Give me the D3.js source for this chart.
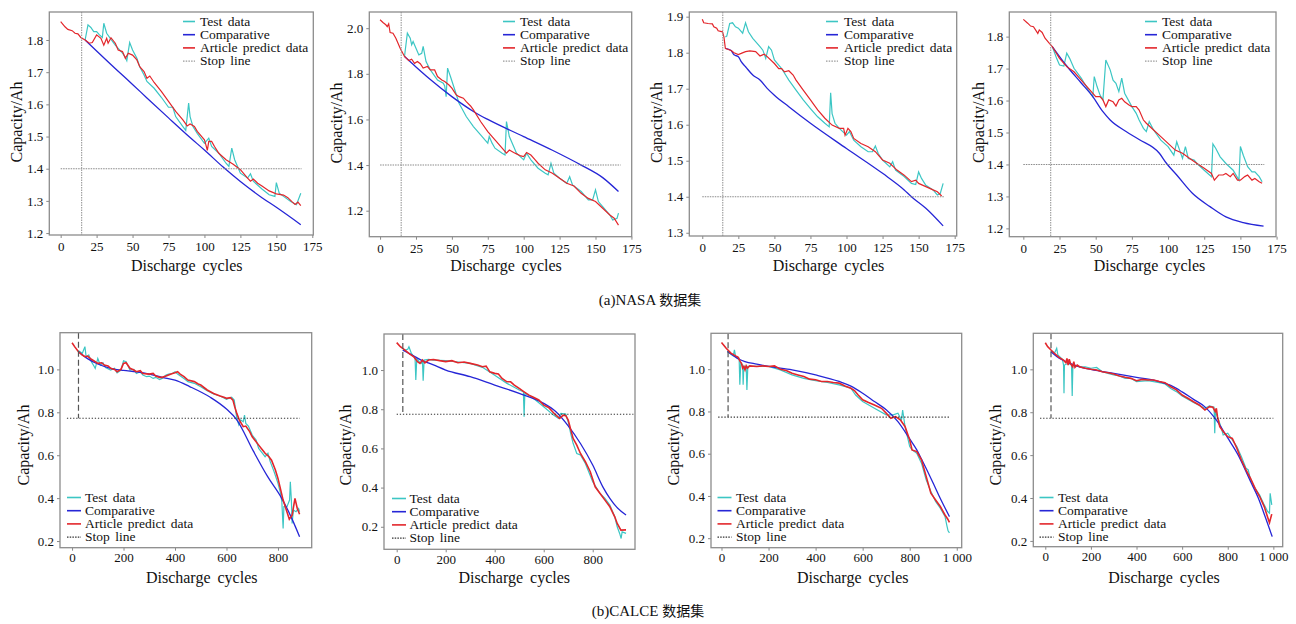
<!DOCTYPE html>
<html>
<head>
<meta charset="utf-8">
<script src="https://cdn.jsdelivr.net/npm/d3@7"></script>
<style>
body { margin: 0; background: #fff; }
text { font-family: "Liberation Serif", "Times New Roman", Times, "DejaVu Serif", serif; fill: #111; }
.cjk { font-family: "Noto Sans CJK SC", sans-serif; }
</style>
</head>
<body>
<script>
// DATA (cycle, capacity in Ah)
var legendLabels = ['Test data', 'Comparative', 'Article predict data', 'Stop line'];
var captionTags = ['(a)NASA ', '(b)CALCE '];
var captionCjk = '数据集';

var nasaCycleTicks = [0, 25, 50, 75, 100, 125, 150, 175];
var calceCycleTicks = [0, 200, 400, 600, 800];
var calceCycleTicksK = [0, 200, 400, 600, 800, 1000];
var calceCycleLabelsK = ['0', '200', '400', '600', '800', '1 000'];
var nasaA_capTicks = [1.2, 1.3, 1.4, 1.5, 1.6, 1.7, 1.8];
var nasaB_capTicks = [1.2, 1.4, 1.6, 1.8, 2.0];
var nasaC_capTicks = [1.3, 1.4, 1.5, 1.6, 1.7, 1.8, 1.9];
var calceCapTicks = [0.2, 0.4, 0.6, 0.8, 1.0];

var nasaThreshold = 1.4;
var nasaStopCycle = [14.6, 14.7, 14.2, 18.9];
var nasaStopEnd = [167.5, 167.5, 168, 166.5];
var calceThreshold = [0.772, 0.774, 0.773, 0.772];
var calceStopCycle = [25, 25, 28, 25];
var calceStopSpan = [[-20, 885], [0, 966], [-14, 971], [-23, 1000]];

var nasaA_test = [[17,1.80],[19,1.847],[21,1.839],[23,1.826],[25,1.826],[27,1.816],[29,1.808],[30,1.852],[32,1.821],[35,1.802],[38,1.784],[40,1.774],[43,1.759],[45,1.746],[46,1.736],[48,1.792],[50,1.769],[53,1.743],[55,1.717],[58,1.691],[60,1.671],[65,1.65],[70,1.622],[75,1.591],[78,1.591],[80,1.562],[85,1.531],[87,1.519],[89,1.604],[90,1.562],[92,1.531],[95,1.51],[100,1.479],[103,1.495],[105,1.469],[110,1.448],[115,1.417],[117,1.407],[119,1.464],[121,1.428],[125,1.386],[130,1.371],[132,1.384],[134,1.361],[140,1.337],[145,1.319],[149,1.314],[150,1.357],[152,1.324],[155,1.314],[160,1.298],[164,1.288],[167,1.324]];
var nasaA_comp = [[17,1.80],[25,1.766],[40,1.703],[50,1.662],[60,1.62],[75,1.558],[90,1.497],[100,1.458],[113,1.405],[125,1.36],[140,1.31],[150,1.28],[167,1.226]];
var nasaA_pred = [[0,1.857],[3,1.841],[5,1.833],[8,1.829],[10,1.821],[12,1.819],[14,1.808],[17,1.80],[20,1.79],[22,1.792],[25,1.816],[28,1.805],[30,1.784],[32,1.805],[33,1.79],[35,1.807],[38,1.79],[40,1.769],[43,1.764],[45,1.743],[47,1.759],[50,1.753],[53,1.738],[55,1.717],[58,1.702],[60,1.681],[62,1.688],[65,1.668],[70,1.64],[75,1.609],[80,1.578],[85,1.552],[88,1.533],[90,1.539],[93,1.531],[95,1.516],[100,1.49],[101,1.474],[102,1.457],[103,1.485],[105,1.485],[107,1.469],[110,1.448],[115,1.428],[120,1.414],[125,1.397],[130,1.371],[132,1.361],[134,1.368],[137,1.355],[140,1.346],[145,1.331],[150,1.322],[155,1.318],[158,1.31],[161,1.297],[163,1.289],[165,1.296],[167,1.285]];

var nasaB_test = [[17,1.876],[19,1.978],[21,1.956],[22,1.927],[23,1.942],[25,1.912],[27,1.883],[29,1.89],[30,1.92],[32,1.854],[35,1.817],[40,1.773],[44,1.759],[45,1.747],[46,1.70],[47,1.825],[49,1.788],[52,1.73],[55,1.671],[60,1.613],[65,1.569],[70,1.532],[73,1.51],[75,1.496],[76,1.525],[78,1.496],[80,1.474],[85,1.452],[87,1.444],[88,1.591],[90,1.525],[93,1.481],[95,1.452],[100,1.423],[102,1.452],[105,1.423],[110,1.386],[115,1.364],[117,1.357],[119,1.408],[121,1.364],[125,1.342],[130,1.32],[132,1.349],[134,1.313],[140,1.284],[145,1.247],[148,1.247],[150,1.291],[152,1.24],[155,1.218],[160,1.181],[162,1.159],[165,1.167],[166,1.189]];
var nasaB_comp = [[17,1.876],[25,1.83],[35,1.775],[50,1.70],[65,1.635],[75,1.60],[100,1.525],[120,1.465],[140,1.40],[155,1.345],[166,1.284]];
var nasaB_pred = [[0,2.037],[2,2.025],[4,2.015],[5,2.007],[6,2.019],[7,1.981],[9,1.978],[11,1.956],[14,1.912],[17,1.876],[20,1.858],[22,1.864],[24,1.846],[26,1.854],[28,1.844],[30,1.825],[33,1.832],[35,1.817],[38,1.817],[40,1.788],[43,1.773],[45,1.766],[48,1.751],[50,1.737],[53,1.708],[55,1.70],[58,1.693],[60,1.678],[63,1.659],[65,1.642],[70,1.591],[75,1.547],[80,1.51],[85,1.474],[88,1.452],[90,1.466],[93,1.455],[95,1.449],[98,1.44],[100,1.437],[102,1.455],[105,1.444],[108,1.423],[110,1.408],[115,1.379],[120,1.364],[125,1.342],[130,1.32],[135,1.308],[140,1.276],[145,1.254],[150,1.24],[155,1.211],[160,1.181],[163,1.167],[166,1.137]];

var nasaC_test = [[16,1.844],[17,1.846],[19,1.881],[21,1.883],[23,1.872],[25,1.868],[28,1.854],[30,1.883],[32,1.858],[35,1.84],[40,1.817],[42,1.807],[44,1.784],[46,1.817],[48,1.807],[50,1.78],[55,1.756],[60,1.724],[65,1.696],[70,1.669],[75,1.645],[80,1.622],[85,1.604],[88,1.594],[89,1.689],[90,1.631],[92,1.604],[95,1.59],[100,1.571],[102,1.581],[105,1.557],[110,1.539],[115,1.525],[118,1.525],[120,1.541],[122,1.52],[125,1.502],[130,1.483],[132,1.497],[134,1.474],[140,1.456],[145,1.437],[148,1.434],[150,1.469],[152,1.451],[155,1.432],[160,1.419],[163,1.405],[165,1.409],[167,1.437]];
var nasaC_comp = [[16,1.812],[20,1.806],[22,1.794],[25,1.789],[27,1.775],[30,1.761],[35,1.738],[40,1.724],[45,1.701],[50,1.682],[60,1.65],[75,1.604],[100,1.534],[125,1.465],[140,1.419],[145,1.40],[155,1.368],[167,1.319]];
var nasaC_pred = [[0,1.893],[1,1.883],[4,1.881],[7,1.88],[8,1.872],[10,1.868],[11,1.861],[14,1.858],[15,1.844],[16,1.812],[18,1.809],[20,1.806],[22,1.80],[25,1.795],[27,1.798],[30,1.803],[33,1.805],[37,1.803],[40,1.791],[43,1.796],[45,1.789],[50,1.77],[53,1.756],[55,1.756],[57,1.747],[60,1.75],[63,1.738],[65,1.724],[70,1.696],[75,1.669],[80,1.641],[85,1.618],[90,1.599],[95,1.59],[98,1.59],[99,1.571],[101,1.59],[103,1.581],[105,1.562],[110,1.548],[115,1.539],[120,1.525],[125,1.502],[130,1.493],[135,1.474],[140,1.46],[145,1.442],[148,1.446],[150,1.437],[155,1.428],[160,1.419],[163,1.414],[166,1.402]];

var nasaD_test = [[20,1.769],[23,1.732],[25,1.711],[28,1.708],[30,1.748],[32,1.732],[35,1.701],[40,1.67],[45,1.633],[48,1.612],[49,1.675],[51,1.643],[53,1.617],[55,1.602],[57,1.727],[60,1.696],[62,1.664],[64,1.654],[66,1.628],[68,1.67],[70,1.623],[75,1.581],[78,1.56],[80,1.539],[83,1.513],[85,1.503],[87,1.534],[90,1.508],[95,1.476],[100,1.456],[104,1.429],[106,1.471],[108,1.445],[110,1.419],[112,1.456],[114,1.419],[118,1.414],[120,1.403],[125,1.382],[130,1.362],[131,1.464],[133,1.45],[136,1.424],[140,1.403],[145,1.382],[149,1.351],[150,1.456],[152,1.429],[155,1.393],[158,1.377],[160,1.377],[163,1.362],[165,1.346]];
var nasaD_comp = [[20,1.769],[30,1.708],[40,1.655],[48,1.612],[55,1.565],[60,1.539],[71,1.503],[80,1.478],[94,1.435],[99,1.403],[106,1.367],[117,1.309],[129,1.268],[140,1.236],[152,1.218],[166,1.207]];
var nasaD_pred = [[0,1.854],[3,1.842],[5,1.833],[7,1.831],[10,1.81],[11,1.821],[13,1.813],[15,1.795],[18,1.779],[20,1.769],[25,1.732],[30,1.706],[35,1.69],[40,1.664],[45,1.638],[50,1.612],[53,1.612],[55,1.602],[57,1.581],[59,1.602],[62,1.596],[64,1.583],[66,1.602],[68,1.607],[70,1.596],[73,1.586],[75,1.581],[78,1.581],[80,1.57],[83,1.539],[85,1.529],[90,1.508],[95,1.487],[100,1.466],[105,1.445],[110,1.435],[115,1.419],[120,1.403],[125,1.388],[130,1.372],[132,1.351],[135,1.367],[138,1.367],[140,1.372],[143,1.362],[145,1.372],[148,1.351],[150,1.351],[153,1.362],[155,1.367],[158,1.351],[160,1.356],[163,1.346],[165,1.341]];

var calceA_test = [[25,1.087],[40,1.075],[50,1.106],[55,1.056],[65,1.067],[75,1.036],[85,1.016],[90,1.005],[100,1.051],[110,1.02],[120,1.031],[130,1.009],[150,0.997],[165,1.005],[175,0.984],[190,0.997],[200,1.04],[210,1.036],[225,0.997],[240,1.0],[250,0.981],[265,0.989],[275,0.974],[290,0.966],[300,0.969],[315,0.958],[325,0.963],[340,0.953],[350,0.958],[365,0.974],[375,0.978],[390,0.981],[400,0.989],[410,0.978],[425,0.966],[440,0.953],[450,0.943],[475,0.935],[500,0.919],[525,0.901],[550,0.885],[575,0.876],[600,0.86],[620,0.87],[630,0.857],[640,0.772],[648,0.741],[655,0.764],[665,0.756],[670,0.787],[675,0.748],[685,0.736],[700,0.694],[715,0.671],[725,0.632],[740,0.609],[750,0.593],[761,0.609],[770,0.57],[785,0.523],[800,0.469],[810,0.422],[815,0.383],[820,0.259],[823,0.36],[835,0.36],[845,0.391],[848,0.476],[852,0.391],[855,0.282],[860,0.345],[870,0.337],[880,0.352],[884,0.337]];
var calceA_comp = [[25,1.082],[60,1.05],[100,1.025],[150,1.005],[200,0.995],[250,0.988],[300,0.978],[350,0.963],[400,0.95],[457,0.92],[537,0.87],[600,0.815],[640,0.765],[704,0.62],[760,0.5],[814,0.4],[850,0.315],[884,0.22]];
var calceA_pred = [[0,1.124],[10,1.106],[25,1.082],[40,1.067],[50,1.059],[60,1.062],[75,1.047],[90,1.036],[100,1.028],[115,1.031],[125,1.02],[140,1.016],[150,1.005],[165,1.0],[175,0.989],[190,1.0],[200,1.028],[210,1.031],[225,1.005],[240,0.997],[250,0.989],[265,0.994],[275,0.981],[300,0.978],[315,0.981],[325,0.969],[340,0.963],[350,0.963],[365,0.969],[375,0.974],[390,0.981],[400,0.984],[410,0.989],[420,0.978],[435,0.966],[450,0.95],[475,0.943],[490,0.932],[500,0.927],[525,0.904],[550,0.888],[575,0.876],[590,0.87],[600,0.865],[615,0.868],[625,0.857],[632,0.826],[640,0.795],[650,0.764],[665,0.733],[675,0.736],[690,0.71],[700,0.686],[715,0.663],[725,0.647],[740,0.624],[750,0.609],[765,0.593],[775,0.577],[790,0.531],[800,0.492],[820,0.391],[844,0.302],[855,0.321],[866,0.399],[875,0.352],[884,0.325]];

var calceB_test = [[25,1.099],[45,1.106],[50,1.119],[60,1.085],[75,1.06],[78,0.949],[82,1.06],[95,1.037],[100,1.034],[105,1.051],[108,0.946],[112,1.051],[130,1.054],[150,1.051],[200,1.048],[250,1.041],[300,1.034],[350,1.014],[400,0.974],[450,0.932],[500,0.898],[517,0.889],[520,0.762],[523,0.881],[550,0.864],[600,0.813],[640,0.77],[660,0.753],[670,0.779],[690,0.775],[700,0.736],[710,0.677],[720,0.626],[735,0.574],[750,0.566],[770,0.523],[800,0.43],[830,0.37],[850,0.345],[870,0.311],[890,0.251],[900,0.20],[910,0.166],[916,0.14],[920,0.174],[936,0.166]];
var calceB_comp = [[25,1.102],[50,1.085],[100,1.051],[150,1.026],[200,1.0],[300,0.966],[400,0.923],[500,0.881],[600,0.83],[650,0.787],[700,0.715],[750,0.625],[800,0.515],[843,0.40],[870,0.345],[898,0.30],[936,0.26]];
var calceB_pred = [[0,1.14],[15,1.119],[30,1.106],[50,1.085],[70,1.068],[85,1.043],[95,1.034],[105,1.051],[115,1.037],[130,1.051],[150,1.054],[175,1.048],[200,1.043],[225,1.048],[250,1.037],[275,1.041],[300,1.034],[330,1.026],[350,1.017],[365,1.02],[380,0.991],[400,0.983],[415,0.98],[430,0.957],[450,0.94],[465,0.94],[480,0.923],[500,0.906],[520,0.889],[540,0.872],[560,0.86],[580,0.847],[600,0.821],[620,0.809],[640,0.782],[650,0.77],[665,0.753],[680,0.77],[690,0.767],[700,0.745],[720,0.651],[735,0.617],[750,0.574],[770,0.532],[790,0.481],[810,0.404],[830,0.37],[850,0.336],[870,0.302],[890,0.251],[900,0.217],[915,0.183],[936,0.184]];

var calceC_test = [[25,1.084],[50,1.063],[55,1.092],[60,1.06],[75,1.052],[78,0.926],[82,1.028],[90,1.021],[92,0.926],[95,1.013],[105,1.013],[108,0.902],[112,1.013],[150,1.013],[200,1.013],[250,0.997],[300,0.973],[350,0.957],[400,0.946],[450,0.937],[500,0.926],[550,0.91],[570,0.878],[600,0.847],[650,0.815],[700,0.784],[730,0.784],[750,0.792],[765,0.76],[770,0.807],[780,0.729],[800,0.634],[810,0.618],[830,0.602],[850,0.555],[870,0.476],[890,0.421],[910,0.374],[930,0.342],[950,0.303],[958,0.26],[963,0.235],[969,0.225]];
var calceC_comp = [[25,1.084],[50,1.065],[75,1.047],[100,1.036],[150,1.024],[200,1.013],[300,0.997],[400,0.973],[500,0.942],[550,0.92],[600,0.886],[650,0.847],[700,0.808],[750,0.752],[800,0.67],[830,0.618],[850,0.575],[900,0.46],[925,0.40],[969,0.302]];
var calceC_pred = [[0,1.126],[20,1.099],[40,1.076],[60,1.063],[70,1.057],[80,1.036],[85,1.028],[90,1.005],[95,1.013],[100,0.997],[105,1.016],[110,1.005],[120,1.016],[150,1.013],[175,1.016],[200,1.013],[225,1.016],[250,1.0],[275,0.994],[300,0.981],[325,0.973],[350,0.965],[375,0.953],[400,0.95],[425,0.942],[450,0.942],[475,0.937],[500,0.934],[525,0.921],[550,0.91],[565,0.899],[580,0.879],[600,0.855],[625,0.842],[650,0.831],[680,0.815],[700,0.792],[720,0.768],[740,0.776],[760,0.76],[780,0.729],[800,0.665],[810,0.618],[830,0.61],[850,0.571],[870,0.492],[890,0.413],[910,0.381],[930,0.35],[950,0.31],[962,0.29],[969,0.275]];

var calceD_test = [[25,1.087],[40,1.075],[50,1.098],[55,1.067],[75,1.047],[80,1.02],[82,0.888],[84,1.02],[100,1.028],[115,1.02],[118,0.876],[121,1.02],[150,1.012],[175,1.012],[200,1.005],[225,1.009],[250,0.989],[275,0.981],[300,0.974],[325,0.969],[350,0.958],[375,0.958],[400,0.943],[450,0.947],[500,0.938],[525,0.932],[550,0.911],[575,0.896],[600,0.876],[650,0.845],[700,0.818],[720,0.829],[740,0.823],[743,0.702],[746,0.803],[760,0.764],[770,0.733],[780,0.694],[800,0.702],[820,0.671],[840,0.64],[860,0.593],[880,0.539],[890,0.531],[900,0.484],[920,0.445],[940,0.414],[960,0.368],[975,0.337],[983,0.329],[986,0.422],[993,0.368]];
var calceD_comp = [[25,1.082],[50,1.06],[100,1.031],[150,1.012],[200,1.0],[300,0.981],[400,0.963],[500,0.943],[550,0.925],[600,0.895],[650,0.86],[700,0.825],[744,0.772],[800,0.68],[846,0.60],[900,0.477],[934,0.40],[965,0.31],[995,0.22]];
var calceD_pred = [[0,1.124],[10,1.106],[25,1.09],[40,1.075],[60,1.056],[80,1.043],[90,1.031],[95,1.051],[100,1.02],[105,1.047],[110,1.028],[120,1.012],[125,1.036],[130,1.009],[140,1.02],[150,1.012],[175,1.005],[200,1.0],[225,0.997],[250,0.989],[275,0.984],[300,0.978],[325,0.969],[350,0.963],[375,0.958],[400,0.947],[425,0.953],[450,0.95],[475,0.95],[500,0.943],[525,0.938],[550,0.919],[575,0.904],[600,0.88],[625,0.865],[650,0.849],[675,0.834],[700,0.81],[720,0.826],[735,0.823],[745,0.803],[750,0.818],[755,0.779],[765,0.733],[780,0.71],[800,0.686],[820,0.678],[840,0.632],[860,0.577],[880,0.531],[900,0.492],[920,0.445],[940,0.407],[960,0.36],[975,0.31],[983,0.285],[993,0.325]];


// LAYOUT
var nasaBottom = 271, calceBottom = 583;
var panels = [
    {row: 0, test: nasaA_test, comp: nasaA_comp, pred: nasaA_pred, box: [49.3, 12, 313.3, 235], xDom: [-7.9, 175.7], yDom: [1.194, 1.887], xTicks: nasaCycleTicks, yTicks: nasaA_capTicks, leg: [183, 200, 21.5], xLab: [186.7, nasaBottom], yLab: [16.7, 122]},
    {row: 0, test: nasaB_test, comp: nasaB_comp, pred: nasaB_pred, box: [369.3, 12, 631.7, 236.7], xDom: [-7.5, 175.2], yDom: [1.086, 2.071], xTicks: nasaCycleTicks, yTicks: nasaB_capTicks, leg: [503, 520, 21.5], xLab: [506, nasaBottom], yLab: [336.7, 123]},
    {row: 0, test: nasaC_test, comp: nasaC_comp, pred: nasaC_pred, box: [689.3, 12, 956.7, 236], xDom: [-9, 176.4], yDom: [1.291, 1.913], xTicks: nasaCycleTicks, yTicks: nasaC_capTicks, leg: [826, 844, 21.5], xLab: [828.5, nasaBottom], yLab: [656.7, 122.5]},
    {row: 0, test: nasaD_test, comp: nasaD_comp, pred: nasaD_pred, box: [1009.3, 12, 1276, 236.7], xDom: [-9.7, 174.6], yDom: [1.174, 1.877], xTicks: nasaCycleTicks, yTicks: nasaA_capTicks, leg: [1145, 1162, 21.5], xLab: [1149.5, nasaBottom], yLab: [978.3, 122.5]},
    {row: 1, test: calceA_test, comp: calceA_comp, pred: calceA_pred, box: [60, 332.7, 311.7, 547.7], xDom: [-46.8, 931], yDom: [0.169, 1.171], xTicks: calceCycleTicks, yTicks: calceCapTicks, leg: [67, 85, 497.5], xLab: [201.7, calceBottom], yLab: [23.3, 445]},
    {row: 1, test: calceB_test, comp: calceB_comp, pred: calceB_pred, box: [384, 334, 635, 549.3], xDom: [-51.8, 972.6], yDom: [0.085, 1.184], xTicks: calceCycleTicks, yTicks: calceCapTicks, leg: [392, 409.5, 498.5], xLab: [514.3, calceBottom], yLab: [345, 445]},
    {row: 1, test: calceC_test, comp: calceC_comp, pred: calceC_pred, box: [711, 333.3, 961.7, 547.7], xDom: [-44.6, 1021], yDom: [0.155, 1.170], xTicks: calceCycleTicksK, yTicks: calceCapTicks, leg: [717.5, 736, 497.5], xLab: [852.7, calceBottom], yLab: [673.3, 445]},
    {row: 1, test: calceD_test, comp: calceD_comp, pred: calceD_pred, box: [1033.3, 333.3, 1282.7, 546.7], xDom: [-52.6, 1041], yDom: [0.173, 1.168], xTicks: calceCycleTicksK, yTicks: calceCapTicks, leg: [1039.5, 1058, 497.5], xLab: [1164, calceBottom], yLab: [995, 445]}
];

var colors = {test: '#3cc6c4', comp: '#2626d6', pred: '#e3262b'};


// PREPARE SVG
var svg = d3.select('body').append('svg')
    .attr('width', 1296)
    .attr('height', 624);

var defs = svg.append('defs');


// DRAW PANELS
panels.forEach(function(p, i) {
    var top = p.row === 0;
    var g = svg.append('g');

    var x = d3.scaleLinear().domain(p.xDom).range([p.box[0], p.box[2]]);
    var y = d3.scaleLinear().domain(p.yDom).range([p.box[3], p.box[1]]);

    defs.append('clipPath').attr('id', 'clip' + i)
        .append('rect')
        .attr('x', p.box[0]).attr('y', p.box[1])
        .attr('width', p.box[2] - p.box[0]).attr('height', p.box[3] - p.box[1]);

    // axes
    var xAxis = d3.axisBottom(x)
        .tickValues(p.xTicks)
        .tickSizeInner(3).tickSizeOuter(0)
        .tickPadding(top ? 4 : 2)
        .tickFormat(function(d) {
            var k = calceCycleTicksK.indexOf(d);
            return (d >= 1000 && k >= 0) ? calceCycleLabelsK[k] : d;
        });
    var yAxis = d3.axisLeft(y)
        .tickValues(p.yTicks)
        .tickSizeInner(3).tickSizeOuter(0)
        .tickPadding(3)
        .tickFormat(d3.format('.1f'));

    [g.append('g').attr('transform', 'translate(0,' + p.box[3] + ')').call(xAxis),
     g.append('g').attr('transform', 'translate(' + p.box[0] + ',0)').call(yAxis)]
        .forEach(function(a) {
            a.select('.domain').remove();
            a.attr('font-family', null).attr('font-size', 13).attr('color', '#111');
            a.selectAll('line').attr('stroke', '#888');
        });

    var plot = g.append('g').attr('clip-path', 'url(#clip' + i + ')');

    // series
    var line = d3.line()
        .x(function(d) { return x(d[0]); })
        .y(function(d) { return y(d[1]); });
    var smooth = d3.line()
        .curve(d3.curveMonotoneX)
        .x(function(d) { return x(d[0]); })
        .y(function(d) { return y(d[1]); });

    plot.append('path').datum(p.test)
        .attr('d', line).attr('fill', 'none')
        .attr('stroke', colors.test).attr('stroke-width', 1.2);
    plot.append('path').datum(p.comp)
        .attr('d', smooth).attr('fill', 'none')
        .attr('stroke', colors.comp).attr('stroke-width', 1.3);
    plot.append('path').datum(p.pred)
        .attr('d', line).attr('fill', 'none')
        .attr('stroke', colors.pred).attr('stroke-width', top ? 1.2 : 1.6);

    // stop lines
    var j = i % 4;
    if (top) {
        plot.append('line')
            .attr('x1', x(0)).attr('x2', x(nasaStopEnd[j]))
            .attr('y1', y(nasaThreshold)).attr('y2', y(nasaThreshold))
            .attr('stroke', '#8a8a8a').attr('stroke-width', 1.1).attr('stroke-dasharray', '1.5,1');
        plot.append('line')
            .attr('x1', x(nasaStopCycle[j])).attr('x2', x(nasaStopCycle[j]))
            .attr('y1', p.box[1]).attr('y2', p.box[3])
            .attr('stroke', '#999').attr('stroke-width', 1.1).attr('stroke-dasharray', '1.5,1');
    } else {
        plot.append('line')
            .attr('x1', x(calceStopSpan[j][0])).attr('x2', x(calceStopSpan[j][1]))
            .attr('y1', y(calceThreshold[j])).attr('y2', y(calceThreshold[j]))
            .attr('stroke', '#333').attr('stroke-width', 1.1).attr('stroke-dasharray', '1.3,1.8');
        plot.append('line')
            .attr('x1', x(calceStopCycle[j])).attr('x2', x(calceStopCycle[j]))
            .attr('y1', p.box[1]).attr('y2', y(calceThreshold[j]))
            .attr('stroke', '#555').attr('stroke-width', 1.2).attr('stroke-dasharray', '6,3');
    }

    // frame
    g.append('rect')
        .attr('x', p.box[0]).attr('y', p.box[1])
        .attr('width', p.box[2] - p.box[0]).attr('height', p.box[3] - p.box[1])
        .attr('fill', 'none').attr('stroke', '#8c8c8c').attr('stroke-width', 1.3);

    // legend
    var legColors = [colors.test, colors.comp, colors.pred, top ? '#999' : '#333'];
    var rowH = 13.2, len = top ? 12 : 14;
    legendLabels.forEach(function(label, k) {
        var ly = p.leg[2] + k * rowH;
        var l = g.append('line')
            .attr('x1', p.leg[0]).attr('x2', p.leg[0] + len)
            .attr('y1', ly).attr('y2', ly)
            .attr('stroke', legColors[k]).attr('stroke-width', k === 3 ? 1.2 : 1.6);
        if (k === 3) l.attr('stroke-dasharray', '1.5,1.2');
        g.append('text')
            .attr('x', p.leg[1]).attr('y', ly + 4.3)
            .attr('font-size', 13.5)
            .style('word-spacing', '2px')
            .text(label);
    });

    // axis labels
    g.append('text')
        .attr('x', p.xLab[0]).attr('y', p.xLab[1])
        .attr('text-anchor', 'middle')
        .attr('font-size', 16)
        .style('word-spacing', '3px')
        .text('Discharge cycles');
    g.append('text')
        .attr('transform', 'translate(' + p.yLab[0] + ',' + p.yLab[1] + ') rotate(-90)')
        .attr('text-anchor', 'middle')
        .attr('dy', '0.35em')
        .attr('font-size', 16)
        .text('Capacity/Ah');
});


// CAPTIONS
[[650, 305], [648, 616]].forEach(function(pos, k) {
    var t = svg.append('text').attr('x', pos[0]).attr('y', pos[1])
        .attr('text-anchor', 'middle').attr('font-size', 15);
    t.append('tspan').text(captionTags[k]);
    t.append('tspan').attr('class', 'cjk').attr('font-size', 14).text(captionCjk);
});
</script>
</body>
</html>
